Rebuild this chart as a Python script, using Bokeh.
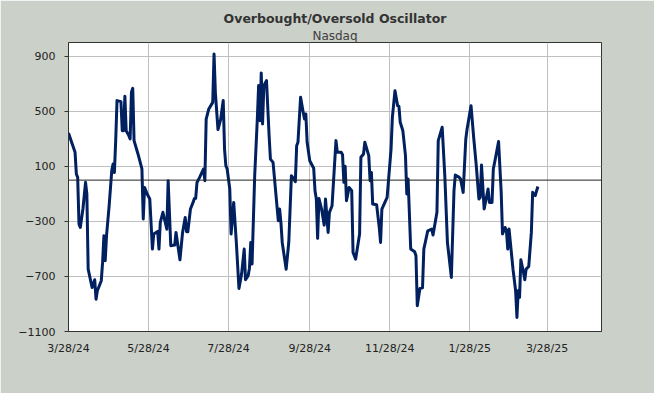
import pandas as pd
from bokeh.plotting import figure
from bokeh.models import FixedTicker, Span, Title, Range1d
from bokeh.embed import file_html
from bokeh.resources import INLINE

title_text = "Overbought/Oversold Oscillator"
subtitle_text = "Nasdaq"

dates = [
    "2024-03-28", "2024-04-02", "2024-04-03", "2024-04-04", "2024-04-05", "2024-04-06", "2024-04-08",
    "2024-04-10", "2024-04-11", "2024-04-12", "2024-04-15", "2024-04-17", "2024-04-18", "2024-04-19",
    "2024-04-22", "2024-04-23", "2024-04-24", "2024-04-25", "2024-04-26", "2024-04-28", "2024-04-30",
    "2024-05-01", "2024-05-02", "2024-05-03", "2024-05-04", "2024-05-07", "2024-05-08", "2024-05-09",
    "2024-05-10", "2024-05-11", "2024-05-13", "2024-05-14", "2024-05-15", "2024-05-16", "2024-05-17",
    "2024-05-20", "2024-05-23", "2024-05-24", "2024-05-25", "2024-05-27", "2024-05-29", "2024-05-31",
    "2024-06-01", "2024-06-04", "2024-06-05", "2024-06-06", "2024-06-08", "2024-06-11", "2024-06-12",
    "2024-06-14", "2024-06-17", "2024-06-18", "2024-06-21", "2024-06-23", "2024-06-25", "2024-06-26",
    "2024-06-27", "2024-06-29", "2024-07-01", "2024-07-02", "2024-07-03", "2024-07-04", "2024-07-06",
    "2024-07-09", "2024-07-10", "2024-07-11", "2024-07-13", "2024-07-16", "2024-07-17", "2024-07-18",
    "2024-07-20", "2024-07-22", "2024-07-24", "2024-07-25", "2024-07-26", "2024-07-27", "2024-07-29",
    "2024-07-30", "2024-08-01", "2024-08-03", "2024-08-05", "2024-08-07", "2024-08-09", "2024-08-10",
    "2024-08-12", "2024-08-13", "2024-08-14", "2024-08-15", "2024-08-17", "2024-08-19", "2024-08-20",
    "2024-08-21", "2024-08-22", "2024-08-23", "2024-08-24", "2024-08-26", "2024-08-28", "2024-08-29",
    "2024-08-31", "2024-09-04", "2024-09-05", "2024-09-06", "2024-09-07", "2024-09-10", "2024-09-12",
    "2024-09-14", "2024-09-15", "2024-09-17", "2024-09-18", "2024-09-19", "2024-09-21", "2024-09-23",
    "2024-09-24", "2024-09-25", "2024-09-26", "2024-09-28", "2024-10-01", "2024-10-02", "2024-10-03",
    "2024-10-04", "2024-10-05", "2024-10-07", "2024-10-09", "2024-10-10", "2024-10-12", "2024-10-13",
    "2024-10-15", "2024-10-18", "2024-10-19", "2024-10-22", "2024-10-23", "2024-10-24", "2024-10-25",
    "2024-10-26", "2024-10-28", "2024-10-30", "2024-10-31", "2024-11-02", "2024-11-05", "2024-11-06",
    "2024-11-08", "2024-11-09", "2024-11-12", "2024-11-13", "2024-11-14", "2024-11-15", "2024-11-18",
    "2024-11-20", "2024-11-21", "2024-11-22", "2024-11-26", "2024-11-29", "2024-11-30", "2024-12-02",
    "2024-12-04", "2024-12-05", "2024-12-06", "2024-12-08", "2024-12-10", "2024-12-11", "2024-12-12",
    "2024-12-14", "2024-12-17", "2024-12-18", "2024-12-19", "2024-12-21", "2024-12-23", "2024-12-24",
    "2024-12-27", "2024-12-30", "2024-12-31", "2025-01-01", "2025-01-03", "2025-01-04", "2025-01-07",
    "2025-01-09", "2025-01-11", "2025-01-14", "2025-01-16", "2025-01-17", "2025-01-20", "2025-01-21",
    "2025-01-23", "2025-01-25", "2025-01-26", "2025-01-29", "2025-01-31", "2025-02-02", "2025-02-04",
    "2025-02-05", "2025-02-06", "2025-02-08", "2025-02-11", "2025-02-12", "2025-02-14", "2025-02-15",
    "2025-02-17", "2025-02-19", "2025-02-21", "2025-02-22", "2025-02-24", "2025-02-25", "2025-02-26",
    "2025-02-27", "2025-03-02", "2025-03-04", "2025-03-05", "2025-03-06", "2025-03-07", "2025-03-08",
    "2025-03-10", "2025-03-11", "2025-03-12", "2025-03-14", "2025-03-16", "2025-03-17", "2025-03-19",
    "2025-03-20", "2025-03-21",
]

values = [
    342, 202, 44, 20, -319, -344, -210,
    -16, -101, -647, -780, -724, -865, -804,
    -731, -598, -404, -586, -404, -186, 69,
    117, 56, 287, 578, 570, 359, 359,
    609, 359, 323, 299, 638, 667, 287,
    190, 81, -283, -53, -101, -137, -501,
    -392, -373, -501, -307, -234, -356, -4,
    -477, -472, -380, -579, -380, -271, -375,
    -375, -210, -162, -133, -133, -17, 20,
    81, -4, 444, 517, 565, 917, 638,
    367, 439, 578, 226, 105, 81, -65,
    -392, -162, -453, -787, -683, -501, -724,
    -695, -640, -453, -610, 32, 444, 687,
    432, 779, 408, 687, 723, 323, 153,
    129, -295, -210, -307, -453, -647, -453,
    32, 20, -11, 250, 275, 602, 493,
    444, 481, 275, 141, 86, -77, -137,
    -423, -133, -210, -327, -137, -380, -234,
    -186, 287, 202, 202, 185, -16, 100,
    -150, -53, -77, -525, -574, -392, 166,
    190, 275, 178, -4, 56, -174, -179,
    -344, -453, -210, -125, 226, 456, 650,
    541, 536, 420, 359, 178, -101, 8,
    -501, -520, -550, -913, -787, -782, -501,
    -368, -356, -399, -344, -234, 287, 384,
    32, -453, -707, -77, 37, 20, 8,
    -89, 299, 372, 541, 311, 105, -137,
    -125, 110, -210, -65, -162, -162, 81,
    178, 280, -89, -392, -344, -368, -501,
    -356, -647, -804, -998, -804, -852, -579,
    -671, -724, -647, -628, -380, -89, -113,
    -77, -46,
]

x_tick_dates = ["2024-03-28", "2024-05-28", "2024-07-28", "2024-09-28",
                "2024-11-28", "2025-01-28", "2025-03-28"]
x_tick_labels = ["3/28/24", "5/28/24", "7/28/24", "9/28/24",
                 "11/28/24", "1/28/25", "3/28/25"]
y_ticks = [-1100, -700, -300, 100, 500, 900]

x = pd.to_datetime(dates)

x_start = pd.Timestamp("2024-03-28")
x_end = pd.Timestamp("2025-05-08 12:00")

p = figure(width=654, height=393, x_axis_type="datetime",
           output_backend="svg", toolbar_location=None,
           x_range=Range1d(x_start, x_end), y_range=Range1d(-1100, 1000),
           min_border_left=68, min_border_right=53, min_border_top=42,
           min_border_bottom=62)

p.background_fill_color = "white"
p.border_fill_color = "#cbd0c9"
p.outline_line_color = "#333333"
p.outline_line_width = 1

FONT = "DejaVu Sans"

p.add_layout(Title(text=subtitle_text, align="center", text_font=FONT,
                   text_font_size="12px", text_font_style="normal",
                   text_color="#404040", standoff=0), "above")
p.add_layout(Title(text=title_text, align="center", text_font=FONT,
                   text_font_size="12.5px", text_font_style="bold",
                   text_color="#333333", standoff=2), "above")

def ms(d):
    return pd.Timestamp(d).value / 1e6

tick_ms = [ms(d) for d in x_tick_dates]
p.xaxis.ticker = FixedTicker(ticks=tick_ms)
p.xaxis.major_label_overrides = {t: lab for t, lab in zip(tick_ms, x_tick_labels)}
p.yaxis.ticker = FixedTicker(ticks=y_ticks)

for ax in (p.xaxis, p.yaxis):
    ax.major_label_text_font = FONT
    ax.major_label_text_font_size = "11px"
    ax.major_label_text_color = "#222222"
    ax.axis_line_color = "#333333"
    ax.minor_tick_line_color = None
    ax.major_tick_in = 0

p.xaxis.major_tick_out = 0
p.xaxis.major_label_standoff = 10
p.yaxis.major_tick_out = 4
p.yaxis.major_tick_line_color = "#333333"
p.yaxis.major_label_standoff = 9

p.xgrid.grid_line_color = "#c0c0c0"
p.ygrid.grid_line_color = "#c0c0c0"
p.xgrid.grid_line_width = 1
p.ygrid.grid_line_width = 1

p.add_layout(Span(location=0, dimension="width", line_color="#222222", line_width=1))

p.line(x, values, line_color="#002060", line_width=3, line_join="round")

open("out.html", "w").write(file_html(p, INLINE))
